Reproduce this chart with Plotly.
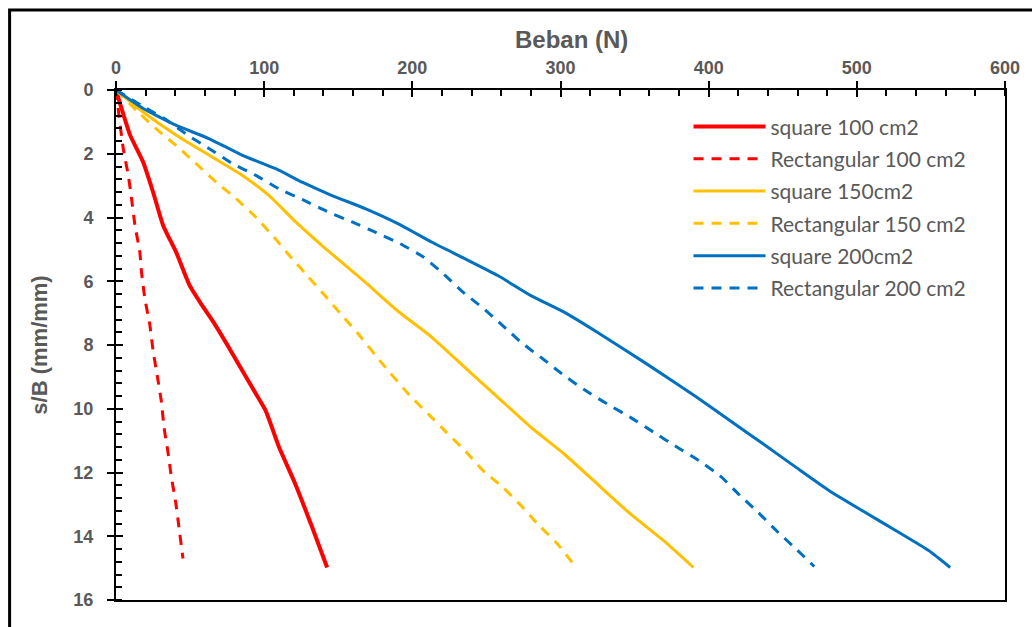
import plotly.graph_objects as go

# ---- data ----
sq100_x = [0, 9.4, 18.3, 25, 31.8, 40.7, 49.7, 58, 66, 78.7, 94.4, 101, 110, 121, 132.4, 142.5]
sq100_y = [0, 1.4, 2.26, 3.2, 4.25, 5.1, 6.13, 6.75, 7.3, 8.28, 9.53, 10.06, 11.2, 12.36, 13.72, 14.98]

re100_x = [0, 1.0, 1.5, 4.9, 8.3, 10.5, 12.8, 16.1, 17.2, 19.5, 22.8, 25, 28, 30.7, 32.4, 35.1, 37.4, 40.3, 42.5, 45.2]
re100_y = [0, 0.3, 0.6, 1.84, 2.68, 3.41, 4.25, 5.09, 5.71, 6.55, 7.36, 8.17, 9.01, 9.8, 10.58, 11.37, 12.15, 12.94, 13.72, 14.7]

sq150_x = [0, 18.3, 40.7, 63, 85.4, 103, 121.3, 139, 154.8, 168.2, 190.6, 213, 235.4, 257.7, 280, 302.5, 324.8, 347.2, 369.6, 389.7]
sq150_y = [0, 0.69, 1.42, 2.05, 2.68, 3.3, 4.14, 4.88, 5.5, 6.03, 6.95, 7.75, 8.7, 9.64, 10.58, 11.42, 12.36, 13.3, 14.14, 14.98]

re150_x = [0, 16.1, 28.4, 41.8, 55.2, 67.6, 81, 94.4, 106.7, 117.9, 130, 141, 152.5, 162.6, 180, 198.4, 210.7, 223, 235.4, 247.7, 261, 273.4, 285.7, 298, 310.5]
re150_y = [0, 0.74, 1.27, 1.79, 2.36, 2.89, 3.41, 3.99, 4.62, 5.24, 5.87, 6.45, 7.07, 7.6, 8.6, 9.59, 10.16, 10.74, 11.31, 11.94, 12.46, 13.04, 13.67, 14.24, 14.98]

sq200_x = [0, 18.3, 40.7, 63, 85.4, 107.8, 126, 145.8, 168.2, 190.6, 213, 235.4, 257.7, 280, 302.5, 324.8, 358.4, 392, 414.3, 436.7, 459, 481.4, 503.8, 526.2, 548.5, 563]
sq200_y = [0, 0.58, 1.11, 1.53, 2.05, 2.47, 2.9, 3.31, 3.72, 4.2, 4.77, 5.29, 5.82, 6.45, 6.97, 7.6, 8.6, 9.64, 10.37, 11.1, 11.84, 12.57, 13.2, 13.82, 14.45, 14.98]

re200_x = [0, 20.6, 32.9, 48.5, 63, 78.7, 94.4, 110, 126, 142, 159.3, 175, 191.7, 207.4, 220.8, 234.2, 247.7, 261, 274.5, 288, 302.5, 317, 331.5, 347.2, 363, 378.5, 393.5, 407.6, 420, 433.4, 445.6, 459, 471.3]
re200_y = [0, 0.58, 0.9, 1.42, 1.84, 2.31, 2.68, 3.1, 3.44, 3.8, 4.14, 4.46, 4.82, 5.24, 5.76, 6.34, 6.84, 7.39, 7.96, 8.43, 8.96, 9.43, 9.85, 10.27, 10.74, 11.2, 11.63, 12.1, 12.67, 13.25, 13.82, 14.4, 14.95]

names = ["square 100 cm2", "Rectangular 100 cm2", "square 150cm2",
         "Rectangular 150 cm2", "square 200cm2", "Rectangular 200 cm2"]
xs = [sq100_x, re100_x, sq150_x, re150_x, sq200_x, re200_x]
ys = [sq100_y, re100_y, sq150_y, re150_y, sq200_y, re200_y]
colors = ["#FF0000", "#FF0000", "#FFC000", "#FFC000", "#0070C0", "#0070C0"]
dashes = ["solid", "10px,8px", "solid", "10px,8px", "solid", "10px,8px"]
widths = [4, 3, 3, 3, 3, 3]

x_ticks = [0, 100, 200, 300, 400, 500, 600]
y_ticks = [0, 2, 4, 6, 8, 10, 12, 14, 16]
x_title = "Beban (N)"
y_title = "s/B (mm/mm)"

GRAY = "#595959"
W, H = 1032, 627
ML, MR, MT, MB = 116, 22, 90, 27
pw, ph = W - ML - MR, H - MT - MB

fig = go.Figure()
for i in range(6):
    fig.add_trace(go.Scatter(
        x=xs[i], y=ys[i], mode="lines", name=names[i],
        legendgroup=str(i),
        line=dict(color=colors[i], width=widths[i], dash=dashes[i],
                  shape="spline", smoothing=0.5),
        xaxis="x", yaxis="y"))

axis_common = dict(showgrid=False, zeroline=False, linecolor="black", linewidth=2,
                   tickcolor="black", tickwidth=2, ticklen=7)
tickfont = dict(family="Liberation Sans", size=18, color=GRAY)

fig.update_layout(
    width=W, height=H,
    margin=dict(l=ML, r=MR, t=MT, b=MB, pad=0),
    paper_bgcolor="white", plot_bgcolor="white",
    showlegend=True,
    legend=dict(x=0.644, y=0.968, xanchor="left", yanchor="top",
                font=dict(family="Lato", size=21, color=GRAY),
                itemwidth=72, tracegroupgap=2, traceorder="grouped",
                bgcolor="rgba(0,0,0,0)"),
    xaxis=dict(axis_common, side="top", range=[0, 600], tickvals=x_ticks,
               ticktext=[f"<b>{v}</b>" for v in x_ticks],
               ticks="outside", mirror=True,
               minor=dict(dtick=20, ticks="inside", ticklen=6, tickwidth=2, tickcolor="black"),
               tickfont=tickfont),
    yaxis=dict(axis_common, range=[16, 0], tickvals=y_ticks,
               ticktext=[f"<b>{v}</b>" for v in y_ticks],
               ticks="outside", mirror=True, ticklabelstandoff=10,
               minor=dict(dtick=0.4, ticks="inside", ticklen=6, tickwidth=2, tickcolor="black"),
               tickfont=tickfont,
               title=dict(text=f"<b>{y_title}</b>", standoff=20,
                          font=dict(family="Liberation Sans", size=22, color=GRAY))),
    xaxis2=dict(overlaying="x", side="top", range=[0, 600], tickvals=x_ticks,
                ticks="inside", ticklen=7, tickwidth=2, tickcolor="black",
                showticklabels=False, showgrid=False, zeroline=False, showline=False),
    yaxis2=dict(overlaying="y", side="left", range=[16, 0], tickvals=y_ticks,
                ticks="inside", ticklen=7, tickwidth=2, tickcolor="black",
                showticklabels=False, showgrid=False, zeroline=False, showline=False),
)

# x-axis title placed as in the reference
fig.add_annotation(text=f"<b>{x_title}</b>", xref="paper", yref="paper",
                   x=(574 - ML) / pw, y=1 + (MT - 40) / ph,
                   xanchor="center", yanchor="middle", showarrow=False,
                   font=dict(family="Liberation Sans", size=24, color=GRAY))

# invisible trace so the overlay axes (inner half of the crossing major ticks) are drawn
fig.add_trace(go.Scatter(x=[0], y=[0], xaxis="x2", yaxis="y2", mode="markers",
                         marker=dict(opacity=0), showlegend=False, hoverinfo="skip"))

# outer chart frame
fig.add_shape(type="rect", xref="paper", yref="paper",
              x0=(9 - ML) / pw, x1=(W + 10 - ML) / pw,
              y0=1 - (H + 10 - MT) / ph, y1=1 - (10 - MT) / ph,
              line=dict(color="black", width=3), fillcolor="rgba(0,0,0,0)", layer="below")

fig.write_html("out.html")
